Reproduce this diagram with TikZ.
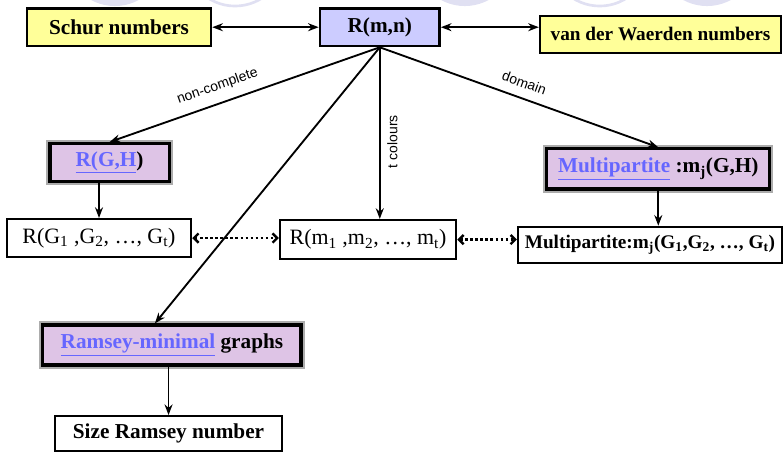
\documentclass[tikz,border=0pt]{standalone}
\usepackage{fontspec}
\setmainfont{Liberation Serif}
\newfontfamily\labelfont{Liberation Sans}
\usetikzlibrary{arrows.meta}

\definecolor{numyellow}{RGB}{255,255,153}
\definecolor{rootblue}{RGB}{204,204,255}
\definecolor{graphpink}{RGB}{222,196,230}
\definecolor{linkblue}{RGB}{102,102,255}
\definecolor{bubble}{RGB}{224,224,242}

\begin{document}
\begin{tikzpicture}[line width=1.4pt,>={Stealth[length=8pt,width=6pt]},
    numbox/.style={rectangle,draw=black,line width=1.8pt,inner sep=2pt,font=\bfseries\fontsize{16}{18}\selectfont},
    yellowbox/.style={numbox,fill=numyellow},
    rootbox/.style={numbox,fill=rootblue},
    graphbox/.style={numbox,fill=graphpink,line width=2.4pt,preaction={draw=gray!65,line width=5.5pt}},
    plainbox/.style={numbox,fill=white},
    edgelabel/.style={font=\labelfont\fontsize{10.5}{12}\selectfont,sloped,above,inner sep=7pt},
    dotlink/.style={dotted,line width=1.8pt,{Straight Barb[length=3.5pt,width=7pt]}-{Straight Barb[length=3.5pt,width=7pt]}}]
  \path[use as bounding box] (0,0) rectangle (20.72,-11.96);

  % slide bubbles behind the title row
  \begin{scope}
  \clip (0,0) rectangle (20.72,-11.96);
  \fill[bubble] (3.04,1.16) circle (1.32);
  \draw[bubble,line width=2pt,fill=white] (6.22,1.16) circle (1.32);
  \fill[bubble] (12.30,1.16) circle (1.32);
  \draw[bubble,line width=2pt,fill=white] (15.87,1.16) circle (1.32);
  \fill[bubble] (18.71,1.16) circle (1.32);
  \end{scope}

  \path
  (3.15,-0.72) node [yellowbox,minimum width=4.87cm,minimum height=0.98cm] (schur) {Schur numbers}
  (10.05,-0.72) node [rootbox,minimum width=3.17cm,minimum height=1.0cm] (rmn) {R(m,n)}
  (17.48,-0.91) node [yellowbox,minimum width=6.38cm,minimum height=0.98cm,
    font=\bfseries\fontsize{14.5}{17}\selectfont] (vdw) {van der Waerden numbers}

  (2.90,-4.30) node [graphbox,minimum width=3.15cm,minimum height=1.0cm] (rgh)
    {\textcolor{linkblue}{\underline{R(G,H}})}
  (17.42,-4.47) node [graphbox,minimum width=5.9cm,minimum height=1.06cm] (mgh)
    {\textcolor{linkblue}{\underline{Multipartite}} :m\textsubscript{j}(G,H)}

  (2.62,-6.30) node [plainbox,minimum width=4.87cm,minimum height=1.0cm,
    font=\fontsize{16.5}{18}\selectfont] (rgt)
    {R(G\textsubscript{1} ,G\textsubscript{2}, \dots, G\textsubscript{t})}
  (9.74,-6.34) node [plainbox,minimum width=4.66cm,minimum height=1.03cm,
    font=\fontsize{16.5}{18}\selectfont] (rmt)
    {R(m\textsubscript{1} ,m\textsubscript{2}, \dots, m\textsubscript{t})}
  (17.20,-6.48) node [plainbox,minimum width=6.98cm,minimum height=0.95cm,
    font=\bfseries\fontsize{14.5}{17}\selectfont] (mgt)
    {Multipartite:m\textsubscript{j}(G\textsubscript{1},G\textsubscript{2}, \dots, G\textsubscript{t})}

  (4.55,-9.13) node [graphbox,minimum width=6.83cm,minimum height=1.06cm] (rmg)
    {\textcolor{linkblue}{\underline{Ramsey-minimal}} graphs}
  (4.46,-11.48) node [plainbox,minimum width=6.0cm,minimum height=0.93cm] (szr) {Size Ramsey number}
  ;

  \draw[<->] (schur) -- (rmn);
  \draw[<->] (rmn.east) -- (rmn.east -| vdw.west);
  \draw[->] (rmn.south) -- node[edgelabel,pos=.58] {non-complete} (rgh.north);
  \draw[->] (rmn.south) -- node[edgelabel,pos=.5] {domain} (mgh.north);
  \draw[->] (rmn.south) -- ([xshift=-0.45cm]rmg.north);
  \draw[->] (rmn.south) -- node[pos=.55,rotate=90,anchor=north,inner sep=5pt,
    font=\labelfont\fontsize{10.5}{12}\selectfont] {t colours} (rmn.south |- rmt.north);
  \draw[->] (rgh.south -| rgt.north) -- (rgt.north);
  \draw[->] (mgh.south) -- (mgh.south |- mgt.north);
  \draw[->] (szr.north |- rmg.south) -- (szr.north);
  \draw[dotlink] (rgt.east) -- (rgt.east -| rmt.west);
  \draw[dotlink] (rmt.east) -- (rmt.east -| mgt.west);
\end{tikzpicture}
\end{document}
